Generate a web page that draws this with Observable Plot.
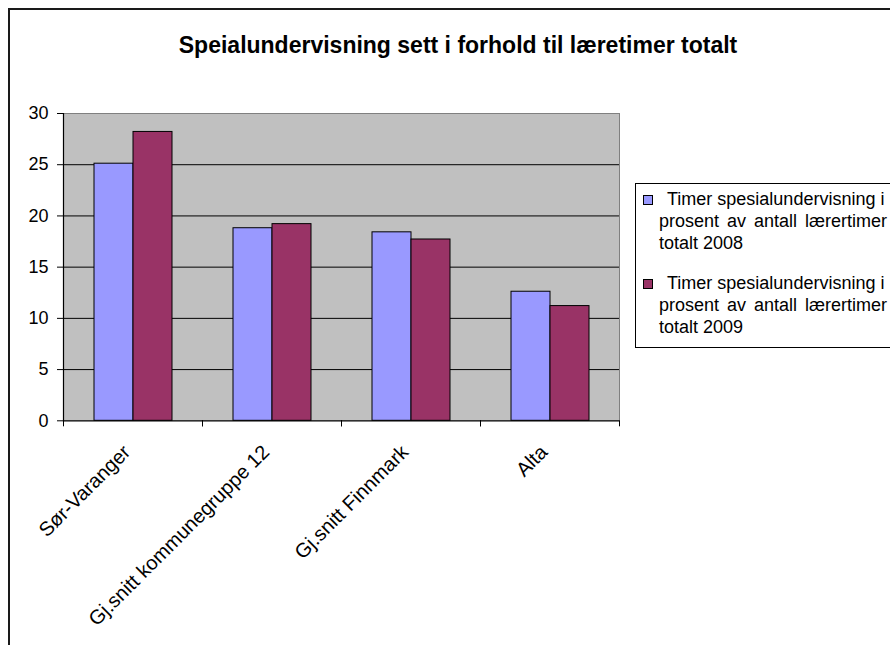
<!DOCTYPE html>
<html>
<head>
<meta charset="utf-8">
<script src="https://cdn.jsdelivr.net/npm/d3@7"></script>
<script src="https://cdn.jsdelivr.net/npm/@observablehq/plot@0.6"></script>
<style>
  html, body { margin: 0; padding: 0; width: 890px; height: 645px; overflow: hidden; background: #fff; }
  #page { position: relative; width: 890px; height: 645px; overflow: hidden; font-family: "Liberation Sans", Arial, sans-serif; }
  #border { position: absolute; left: 8px; top: 8px; width: 920px; height: 700px; border: 2px solid #1a1a1a; box-sizing: border-box; }
  #title { position: absolute; left: 0; width: 916px; top: 32px; text-align: center; font-weight: bold; font-size: 23px; color: #000; white-space: nowrap; }
  #chart { position: absolute; left: 0; top: 0; }
  #legend { position: absolute; left: 635px; top: 183px; width: 320px; height: 165px; border: 1px solid #000; box-sizing: border-box; background: #fff; }
  .item { position: absolute; left: 0; font-size: 18px; line-height: 22px; color: #000; white-space: nowrap; }
  .item .line { padding-left: 23px; }
  .item .line.first { padding-left: 31px; }
  .item .line.second { word-spacing: 3px; }
  .item .sw { position: absolute; left: 7px; top: 7px; width: 8px; height: 8px; border: 1px solid #000; }
</style>
</head>
<body>
<div id="page">
  <div id="border"></div>
  <div id="chart"></div>
  <div id="title"></div>
  <div id="legend"></div>
</div>
<script>
const titleText = "Speialundervisning sett i forhold til læretimer totalt";
const categories = ["Sør-Varanger", "Gj.snitt kommunegruppe 12", "Gj.snitt Finnmark", "Alta"];
const years = ["2008", "2009"];
const values2008 = [25.1, 18.8, 18.4, 12.6];
const values2009 = [28.2, 19.2, 17.7, 11.2];
const seriesLines = [
  ["Timer spesialundervisning i", "prosent av antall lærertimer", "totalt 2008"],
  ["Timer spesialundervisning i", "prosent av antall lærertimer", "totalt 2009"]
];
const colors = ["#9999FF", "#993366"];
const yTicks = [0, 5, 10, 15, 20, 25, 30];
const gridValues = [5, 10, 15, 20, 25];

const data = [];
categories.forEach((c, i) => {
  data.push({category: c, year: years[0], value: values2008[i]});
  data.push({category: c, year: years[1], value: values2009[i]});
});

const W = 890, H = 645;
const mL = 63, mR = 271, mT = 113, mB = 224.7;
const step = (W - mL - mR) / categories.length;

const plot = Plot.plot({
  width: W,
  height: H,
  marginLeft: mL,
  marginRight: mR,
  marginTop: mT,
  marginBottom: mB,
  style: {fontFamily: "'Liberation Sans', Arial, sans-serif", fontSize: "18px", color: "#000", background: "transparent"},
  fx: {domain: categories, paddingInner: 0, paddingOuter: 0, label: null},
  x: {domain: years, paddingInner: 0, paddingOuter: 0.74, axis: null},
  y: {domain: [0, 30], label: null},
  color: {domain: years, range: colors},
  marks: [
    Plot.frame({fill: "#C0C0C0", stroke: null, shapeRendering: "crispEdges"}),
    Plot.ruleY(gridValues, {stroke: "#000", strokeWidth: 1}),
    Plot.frame({anchor: "top", stroke: "#808080", strokeWidth: 1}),
    Plot.frame({anchor: "right", stroke: "#808080", strokeWidth: 1, facetAnchor: "right"}),
    Plot.barY(data, {fx: "category", x: "year", y: "value", fill: "year", stroke: "#000", strokeWidth: 1}),
    Plot.ruleY([0], {stroke: "#000", strokeWidth: 1.2}),
    Plot.frame({anchor: "left", stroke: "#000", strokeWidth: 1.2, facetAnchor: "left"}),
    Plot.axisY({ticks: yTicks, tickSize: 6, tickPadding: 9, fontSize: 18, label: null}),
    Plot.axisFx({anchor: "bottom", tickSize: 6, tickFormat: () => "", dx: -step / 2, label: null}),
    Plot.axisFx({anchor: "bottom", tickSize: 6, tickFormat: () => "", dx: step / 2, label: null}),
    Plot.axisFx({anchor: "bottom", tickSize: 0, tickRotate: -45, tickPadding: 28, dx: -6, fontSize: 20, label: null})
  ]
});
document.getElementById("chart").appendChild(plot);
document.getElementById("title").textContent = titleText;

const legend = document.getElementById("legend");
const lineClasses = ["line first", "line second", "line"];
seriesLines.forEach((lines, i) => {
  const item = document.createElement("div");
  item.className = "item";
  item.style.top = (4 + i * 84) + "px";
  const sw = document.createElement("div");
  sw.className = "sw";
  sw.style.background = colors[i];
  item.appendChild(sw);
  lines.forEach((t, j) => {
    const ln = document.createElement("div");
    ln.className = lineClasses[j];
    ln.textContent = t;
    item.appendChild(ln);
  });
  legend.appendChild(item);
});
</script>
</body>
</html>
